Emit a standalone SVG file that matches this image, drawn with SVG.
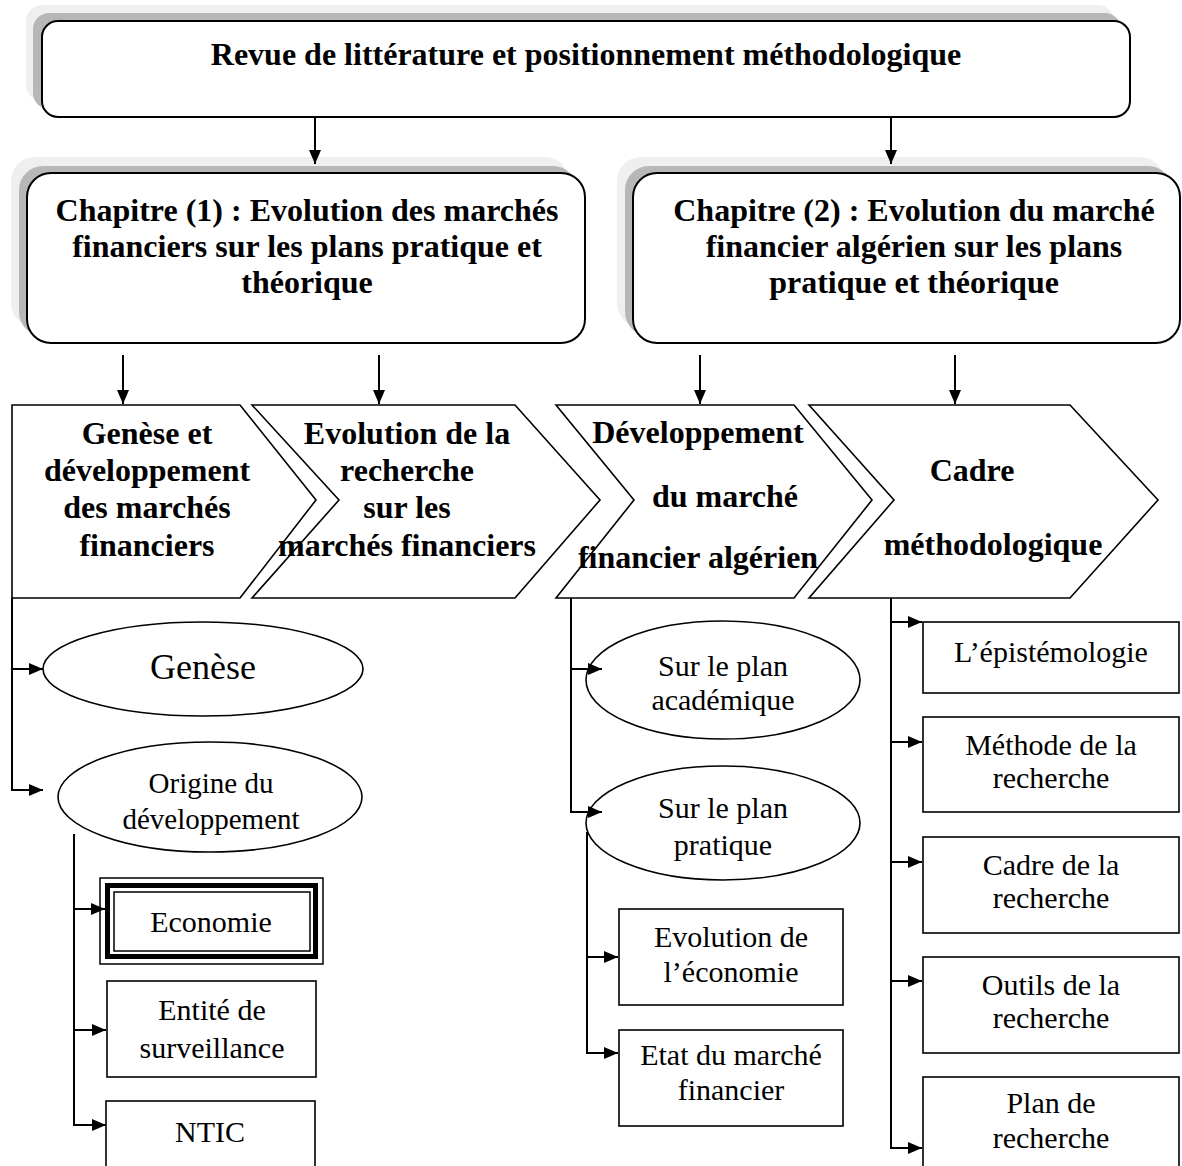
<svg xmlns="http://www.w3.org/2000/svg" width="1182" height="1166" viewBox="0 0 1182 1166">
  <defs>
    <marker id="ah" viewBox="0 0 14 12" refX="14" refY="6" markerWidth="14" markerHeight="12" markerUnits="userSpaceOnUse" orient="auto">
      <path d="M0,0 L14,6 L0,12 z" fill="#000"/>
    </marker>
    <style>
      text { font-family: "Liberation Serif", "Times New Roman", serif; fill: #000; text-anchor: middle; }
      .b { font-weight: bold; font-size: 32px; }
      .r { font-size: 30px; }
      .sh1 { fill: #efefef; }
      .sh2 { fill: #b7b7b7; }
      .main { fill: #fff; stroke: #000; stroke-width: 2; }
      .chev { fill: #fff; stroke: #000; stroke-width: 1.6; }
      .box { fill: #fff; stroke: #000; stroke-width: 1.6; }
      .ell { fill: #fff; stroke: #000; stroke-width: 1.6; }
      .con { fill: none; stroke: #000; stroke-width: 2; }
      .arr { fill: none; stroke: #000; stroke-width: 2; marker-end: url(#ah); }
    </style>
  </defs>
  <rect width="1182" height="1166" fill="#fff"/>

  <!-- Title box with stepped shadow -->
  <g id="title">
    <rect class="sh1" x="26" y="5" width="1088" height="96" rx="16"/>
    <rect class="sh2" x="33" y="13" width="1088" height="96" rx="16"/>
    <rect class="main" x="42" y="21" width="1088" height="96" rx="16"/>
    <text class="b" x="586" y="65">Revue de littérature et positionnement méthodologique</text>
  </g>

  <!-- Chapter boxes -->
  <g id="chap1">
    <rect class="sh1" x="11" y="157" width="558" height="170" rx="24"/>
    <rect class="sh2" x="19" y="166" width="558" height="170" rx="24"/>
    <rect class="main" x="27" y="173" width="558" height="170" rx="24"/>
    <text class="b" x="307" y="221">Chapitre (1) : Evolution des marchés</text>
    <text class="b" x="307" y="257">financiers sur les plans pratique et</text>
    <text class="b" x="307" y="293">théorique</text>
  </g>
  <g id="chap2">
    <rect class="sh1" x="617" y="157" width="547" height="170" rx="24"/>
    <rect class="sh2" x="625" y="166" width="547" height="170" rx="24"/>
    <rect class="main" x="633" y="173" width="547" height="170" rx="24"/>
    <text class="b" x="914" y="221">Chapitre (2) : Evolution du marché</text>
    <text class="b" x="914" y="257">financier algérien sur les plans</text>
    <text class="b" x="914" y="293">pratique et théorique</text>
  </g>

  <!-- Chevron sections -->
  <g id="sec-genese">
    <polygon class="chev" points="12,405 240,405 316,500 240,598 12,598"/>
    <text class="b" x="147" y="444">Genèse et</text>
    <text class="b" x="147" y="481">développement</text>
    <text class="b" x="147" y="518">des marchés</text>
    <text class="b" x="147" y="556">financiers</text>
  </g>
  <g id="sec-recherche">
    <polygon class="chev" points="252,405 515,405 600,500 515,598 252,598 339,500"/>
    <text class="b" x="407" y="444">Evolution de la</text>
    <text class="b" x="407" y="481">recherche</text>
    <text class="b" x="407" y="518">sur les</text>
    <text class="b" x="407" y="556">marchés financiers</text>
  </g>
  <g id="sec-algerie">
    <polygon class="chev" points="556,405 794,405 872,500 794,598 556,598 634,500"/>
    <text class="b" x="698" y="443">Développement</text>
    <text class="b" x="725" y="507">du marché</text>
    <text class="b" x="698" y="568">financier algérien</text>
  </g>
  <g id="sec-cadre">
    <polygon class="chev" points="809,405 1070,405 1158,500 1070,598 809,598 894,500"/>
    <text class="b" x="972" y="481">Cadre</text>
    <text class="b" x="993" y="555">méthodologique</text>
  </g>

  <!-- Column 1 items -->
  <g id="genese">
    <ellipse class="ell" cx="203" cy="669" rx="160" ry="47"/>
    <text x="203" y="679" style="font-size:36px">Genèse</text>
  </g>
  <g id="origine">
    <ellipse class="ell" cx="210" cy="797" rx="152" ry="55"/>
    <text x="211" y="793" style="font-size:29px">Origine du</text>
    <text x="211" y="829" style="font-size:29px">développement</text>
  </g>
  <g id="economie">
    <rect x="100" y="878" width="223" height="86" fill="#fff" stroke="#000" stroke-width="1.5"/>
    <rect x="107.5" y="885.5" width="208" height="71" fill="none" stroke="#000" stroke-width="5"/>
    <rect x="114" y="892" width="196" height="59" fill="none" stroke="#000" stroke-width="1.5"/>
    <text class="r" x="211" y="932">Economie</text>
  </g>
  <g id="entite">
    <rect class="box" x="107" y="981" width="209" height="96"/>
    <text class="r" x="212" y="1020">Entité de</text>
    <text class="r" x="212" y="1058">surveillance</text>
  </g>
  <g id="ntic">
    <rect class="box" x="106" y="1101" width="209" height="80"/>
    <text class="r" x="210" y="1142">NTIC</text>
  </g>

  <!-- Column 3 items -->
  <g id="academique">
    <ellipse class="ell" cx="723" cy="680" rx="137" ry="59"/>
    <text class="r" x="723" y="676">Sur le plan</text>
    <text class="r" x="723" y="710">académique</text>
  </g>
  <g id="pratique">
    <ellipse class="ell" cx="723" cy="823" rx="137" ry="57"/>
    <text class="r" x="723" y="818">Sur le plan</text>
    <text class="r" x="723" y="855">pratique</text>
  </g>
  <g id="evolution-eco">
    <rect class="box" x="619" y="909" width="224" height="96"/>
    <text class="r" x="731" y="947">Evolution de</text>
    <text class="r" x="731" y="982">l’économie</text>
  </g>
  <g id="etat-marche">
    <rect class="box" x="619" y="1030" width="224" height="96"/>
    <text class="r" x="731" y="1065">Etat du marché</text>
    <text class="r" x="731" y="1100">financier</text>
  </g>

  <!-- Column 4 items -->
  <g id="epistemologie">
    <rect class="box" x="923" y="622" width="256" height="71"/>
    <text class="r" x="1051" y="662">L’épistémologie</text>
  </g>
  <g id="methode">
    <rect class="box" x="923" y="717" width="256" height="95"/>
    <text class="r" x="1051" y="755">Méthode de la</text>
    <text class="r" x="1051" y="788">recherche</text>
  </g>
  <g id="cadre-rech">
    <rect class="box" x="923" y="837" width="256" height="96"/>
    <text class="r" x="1051" y="875">Cadre de la</text>
    <text class="r" x="1051" y="908">recherche</text>
  </g>
  <g id="outils">
    <rect class="box" x="923" y="957" width="256" height="96"/>
    <text class="r" x="1051" y="995">Outils de la</text>
    <text class="r" x="1051" y="1028">recherche</text>
  </g>
  <g id="plan">
    <rect class="box" x="923" y="1077" width="256" height="100"/>
    <text class="r" x="1051" y="1113">Plan de</text>
    <text class="r" x="1051" y="1148">recherche</text>
  </g>

  <!-- Connectors -->
  <g id="connectors">
    <line class="arr" x1="315" y1="117" x2="315" y2="164"/>
    <line class="arr" x1="891" y1="117" x2="891" y2="164"/>
    <line class="arr" x1="123" y1="355" x2="123" y2="404"/>
    <line class="arr" x1="379" y1="355" x2="379" y2="404"/>
    <line class="arr" x1="700" y1="355" x2="700" y2="404"/>
    <line class="arr" x1="955" y1="355" x2="955" y2="404"/>

    <path class="con" d="M12,598 V791"/>
    <line class="arr" x1="11" y1="669" x2="43" y2="669"/>
    <line class="arr" x1="11" y1="790" x2="43" y2="790"/>

    <path class="con" d="M74,834 V1126"/>
    <line class="arr" x1="73" y1="909" x2="105" y2="909"/>
    <line class="arr" x1="73" y1="1030" x2="106" y2="1030"/>
    <line class="arr" x1="73" y1="1125" x2="106" y2="1125"/>

    <path class="con" d="M571,598 V813"/>
    <line class="arr" x1="570" y1="669" x2="602" y2="669"/>
    <line class="arr" x1="570" y1="812" x2="602" y2="812"/>

    <path class="con" d="M587,832 V1054"/>
    <line class="arr" x1="586" y1="957" x2="618" y2="957"/>
    <line class="arr" x1="586" y1="1053" x2="618" y2="1053"/>

    <path class="con" d="M891,598 V1149"/>
    <line class="arr" x1="890" y1="622" x2="922" y2="622"/>
    <line class="arr" x1="890" y1="742" x2="922" y2="742"/>
    <line class="arr" x1="890" y1="862" x2="922" y2="862"/>
    <line class="arr" x1="890" y1="981" x2="922" y2="981"/>
    <line class="arr" x1="890" y1="1148" x2="922" y2="1148"/>
  </g>
</svg>
